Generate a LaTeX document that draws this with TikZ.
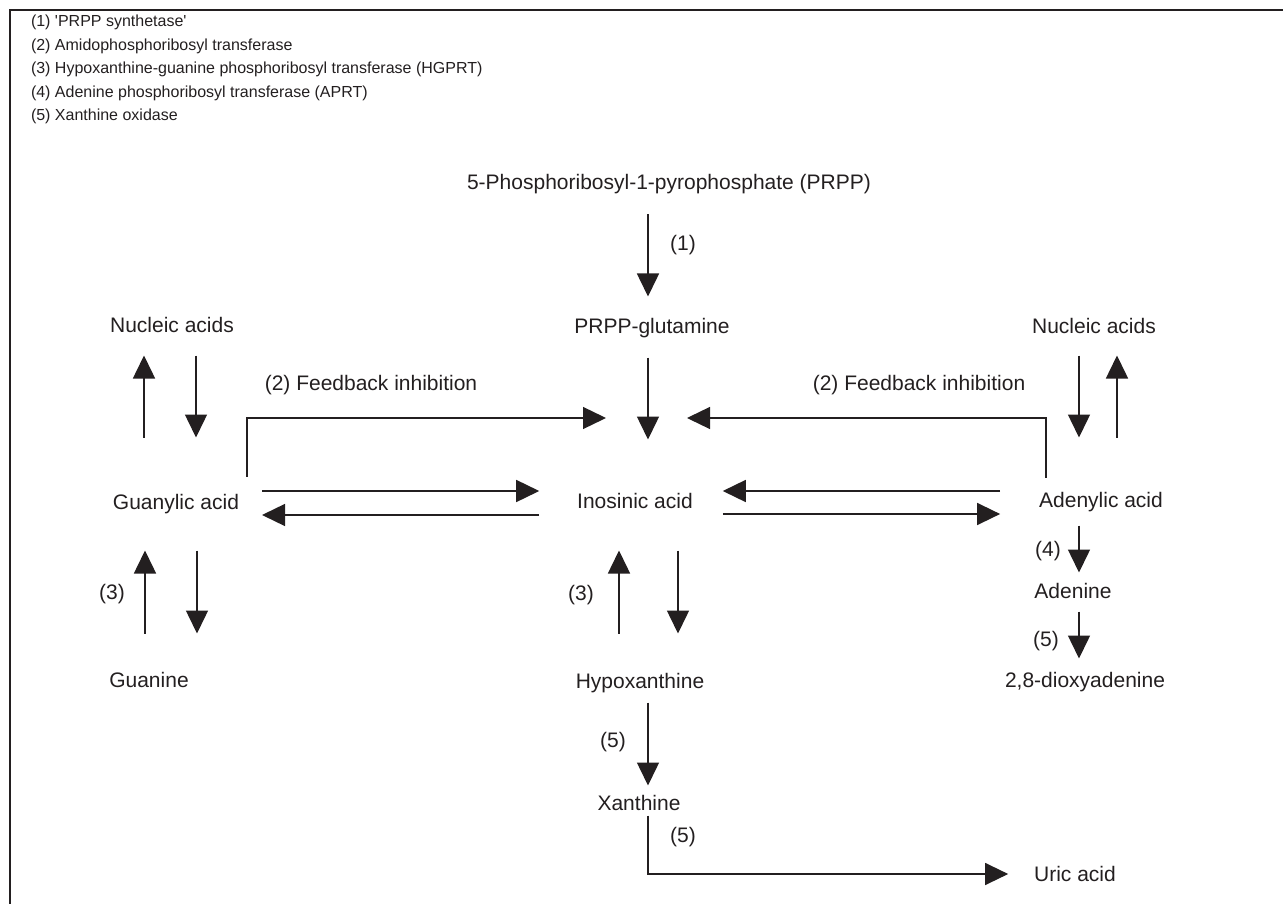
\documentclass[tikz,border=0pt]{standalone}
\usepackage{fontspec}
\setmainfont{Liberation Sans}
\usetikzlibrary{arrows.meta}
\definecolor{ink}{HTML}{231F20}

\begin{document}
\begin{tikzpicture}[x=1pt,y=-1pt,
  every node/.style={inner sep=0pt,outer sep=0pt,text=ink},
  chem/.style={font=\fontsize{21}{25}\selectfont,text height=15pt,text depth=0pt},
  legend/.style={anchor=west,font=\fontsize{16}{19}\selectfont,text height=11.5pt,text depth=0pt},
  arr/.style={draw=ink,line width=1.5pt,-{Triangle[length=23pt,width=22pt]}},
  fb/.style={draw=ink,line width=1.3pt,-{Triangle[length=23pt,width=22pt]}}]

  \useasboundingbox (0,0) rectangle (1283,904);
  \draw[ink,line width=1.3pt] (10,904) -- (10,10) -- (1283,10);

  % enzymes
  \node[legend] (leg1) at (31,21) {(1) \textquotesingle PRPP synthetase\textquotesingle};
  \node[legend] (leg2) at (31,44.5) {(2) Amidophosphoribosyl transferase};
  \node[legend] (leg3) at (31,68) {(3) Hypoxanthine-guanine phosphoribosyl transferase (HGPRT)};
  \node[legend] (leg4) at (31,91.5) {(4) Adenine phosphoribosyl transferase (APRT)};
  \node[legend] (leg5) at (31,115) {(5) Xanthine oxidase};

  % compounds
  \node[chem] (prpp) at (669,182) {5-Phosphoribosyl-1-pyrophosphate (PRPP)};
  \node[chem] (glut) at (652,326) {PRPP-glutamine};
  \node[chem] (nucL) at (172,325) {Nucleic acids};
  \node[chem] (nucR) at (1094,326) {Nucleic acids};
  \node[chem] (guan) at (176,502) {Guanylic acid};
  \node[chem] (inos) at (635,501) {Inosinic acid};
  \node[chem] (aden) at (1101,500) {Adenylic acid};
  \node[chem] (guanine) at (149,680) {Guanine};
  \node[chem] (hypo) at (640,681) {Hypoxanthine};
  \node[chem] (adenine) at (1073,591) {Adenine};
  \node[chem] (diox) at (1085,680) {2,8-dioxyadenine};
  \node[chem] (xan) at (639,803) {Xanthine};
  \node[chem] (uric) at (1075,874) {Uric acid};

  % step labels
  \node[chem] (e1) at (683,243) {(1)};
  \node[chem] (fbl) at (371,383) {(2) Feedback inhibition};
  \node[chem] (fbr) at (919,383) {(2) Feedback inhibition};
  \node[chem] (e3a) at (112,592) {(3)};
  \node[chem] (e3b) at (581,593) {(3)};
  \node[chem] (e4) at (1048,549) {(4)};
  \node[chem] (e5a) at (1046,639) {(5)};
  \node[chem] (e5b) at (613,740) {(5)};
  \node[chem] (e5c) at (683,835) {(5)};

  \coordinate (hub) at (648,418);

  % main chain
  \draw[arr,shorten <=25pt,shorten >=22pt] (prpp.south -| 648,0) -- (glut.north -| 648,0);
  \draw[arr,shorten <=24pt,shorten >=54pt] (glut.south -| 648,0) -- (inos.north -| 648,0);
  \draw[fb,shorten <=18pt,shorten >=42pt] (guan.north -| 247,0) |- (hub); % feedback left
  \draw[fb,shorten <=15pt,shorten >=39pt] (aden.north -| 1046,0) |- (hub); % feedback right

  % nucleic acids
  \draw[arr,shorten <=57pt,shorten >=23pt] (guan.north -| 144,0) -- (nucL.south -| 144,0);
  \draw[arr,shorten <=23pt,shorten >=57pt] (nucL.south -| 196,0) -- (guan.north -| 196,0);
  \draw[arr,shorten <=22pt,shorten >=55pt] (nucR.south -| 1079,0) -- (aden.north -| 1079,0);
  \draw[arr,shorten <=55pt,shorten >=22pt] (aden.north -| 1117,0) -- (nucR.south -| 1117,0);

  % inosinic acid <-> guanylic / adenylic
  \draw[arr,shorten <=23pt,shorten >=38pt] (guan.east |- 0,491) -- (inos.west |- 0,491);
  \draw[arr,shorten <=38pt,shorten >=23pt] (inos.west |- 0,515) -- (guan.east |- 0,515);
  \draw[arr,shorten <=39pt,shorten >=30pt] (aden.west |- 0,491) -- (inos.east |- 0,491);
  \draw[arr,shorten <=30pt,shorten >=39pt] (inos.east |- 0,514) -- (aden.west |- 0,514);

  % bases
  \draw[arr,shorten <=39pt,shorten >=41pt] (guanine.north -| 145,0) -- (guan.south -| 145,0);
  \draw[arr,shorten <=41pt,shorten >=39pt] (guan.south -| 197,0) -- (guanine.north -| 197,0);
  \draw[arr,shorten <=40pt,shorten >=42pt] (hypo.north -| 619,0) -- (inos.south -| 619,0);
  \draw[arr,shorten <=42pt,shorten >=40pt] (inos.south -| 678,0) -- (hypo.north -| 678,0);
  \draw[arr,shorten <=18pt,shorten >=11pt] (aden.south -| 1079,0) -- (adenine.north -| 1079,0);
  \draw[arr,shorten <=13pt,shorten >=14pt] (adenine.south -| 1079,0) -- (diox.north -| 1079,0);

  % breakdown
  \draw[arr,shorten <=14pt,shorten >=10pt] (hypo.south -| 648,0) -- (xan.north -| 648,0);
  \draw[fb,shorten <=5pt,shorten >=26pt] (xan.south -| 648,0) |- (uric.west);
\end{tikzpicture}
\end{document}
